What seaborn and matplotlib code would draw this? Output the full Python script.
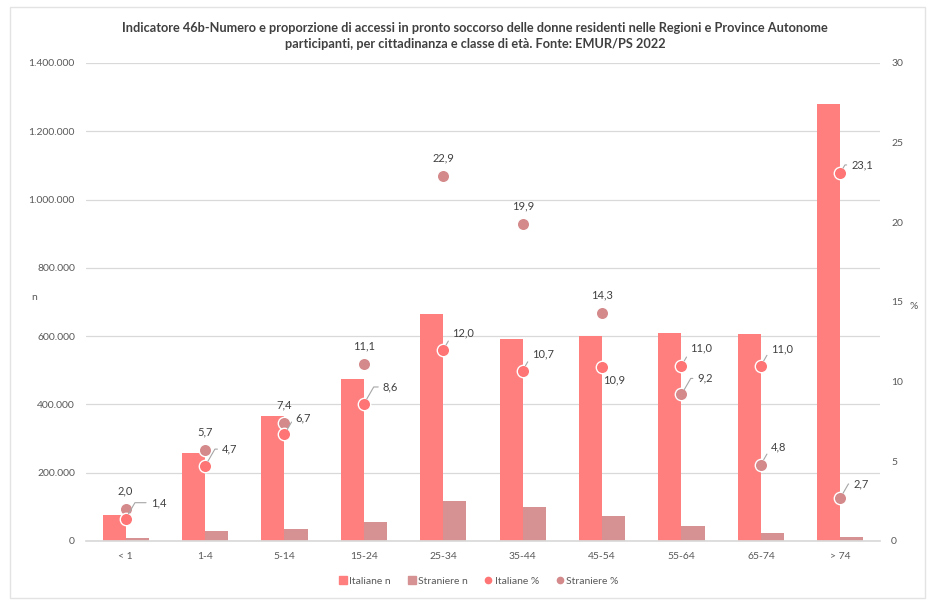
import numpy as np
import pandas as pd
import matplotlib
matplotlib.use("Agg")
import matplotlib.pyplot as plt
import seaborn as sns
from matplotlib.ticker import FuncFormatter
from matplotlib.lines import Line2D
from matplotlib.patches import Rectangle

# ---------------- data ----------------
categories = ["< 1", "1-4", "5-14", "15-24", "25-34", "35-44", "45-54", "55-64", "65-74", "> 74"]
italiane_n = [75000, 258000, 367000, 474000, 664000, 592000, 600000, 610000, 606000, 1279000]
straniere_n = [8000, 28000, 36000, 55000, 116000, 100000, 72000, 45000, 23000, 13000]
italiane_pct = [1.4, 4.7, 6.7, 8.6, 12.0, 10.7, 10.9, 11.0, 11.0, 23.1]
straniere_pct = [2.0, 5.7, 7.4, 11.1, 22.9, 19.9, 14.3, 9.2, 4.8, 2.7]
series_names = ["Italiane n", "Straniere n", "Italiane %", "Straniere %"]
title = ("Indicatore 46b-Numero e proporzione di accessi in pronto soccorso delle donne residenti nelle Regioni e Province Autonome\n"
         "participanti, per cittadinanza e classe di età. Fonte: EMUR/PS 2022")

# ---------------- style ----------------
sns.set_theme(style="white")
plt.rcParams["font.family"] = ["Lato", "DejaVu Sans"]

C_IT = "#FF7F7F"
C_ST = "#D69193"
C_IT_M = "#FF7474"
C_ST_M = "#D4898B"
TXT = "#595959"
LBL = "#404040"
GRID = "#D9D9D9"

fig = plt.figure(figsize=(9.29, 6.0), dpi=100)
fig.patch.set_facecolor("white")
ax = fig.add_axes([86/929, 1-541/600, (880-86)/929, (541-63)/600])

df = pd.DataFrame({
    "cat": categories * 2,
    "n": italiane_n + straniere_n,
    "serie": [series_names[0]] * len(categories) + [series_names[1]] * len(categories),
})
sns.barplot(data=df, x="cat", y="n", hue="serie", order=categories,
            hue_order=series_names[:2], palette=[C_IT, C_ST], width=0.58,
            gap=0, saturation=1, ax=ax, legend=False, linewidth=0)

ax.set_ylim(0, 1400000)
ax.set_yticks(np.arange(0, 1400001, 200000))
ax.yaxis.set_major_formatter(FuncFormatter(lambda v, p: f"{int(v):,}".replace(",", ".")))
ax.set_xlim(-0.5, len(categories) - 0.5)
ax.grid(axis="y", color=GRID, linewidth=0.9)
ax.set_axisbelow(True)
for s in ["top", "right", "left"]:
    ax.spines[s].set_visible(False)
ax.spines["bottom"].set_color(GRID)
ax.tick_params(axis="both", length=0, labelsize=7.5, labelcolor=TXT, pad=8)
ax.set_xlabel("")
ax.set_ylabel("n", rotation=0, fontsize=7.5, color=TXT, labelpad=18)
ax.yaxis.set_label_coords(-0.065, 0.5)

ax2 = ax.twinx()
xs = np.arange(len(categories))
sns.scatterplot(x=xs, y=straniere_pct, ax=ax2, color=C_ST_M, s=80,
                edgecolor="white", linewidth=1.0, zorder=5, legend=False)
sns.scatterplot(x=xs, y=italiane_pct, ax=ax2, color=C_IT_M, s=80,
                edgecolor="white", linewidth=1.0, zorder=6, legend=False)
ax2.set_ylim(0, 30)
ax2.set_yticks(np.arange(0, 31, 5))
ax2.set_xlim(-0.5, len(categories) - 0.5)
for s in ["top", "right", "left", "bottom"]:
    ax2.spines[s].set_visible(False)
ax2.tick_params(axis="y", length=0, labelsize=7.5, labelcolor=TXT, pad=8)
ax2.set_ylabel("%", rotation=0, fontsize=7.5, color=TXT)
ax2.yaxis.set_label_coords(1.043, 0.5)
ax2.grid(False)

# ---------------- data labels ----------------
PX = 0.72  # px -> pt

def fmt(v):
    return f"{v:.1f}".replace(".", ",")

# (dx, dy, leader) in pixels; None -> centred above marker
it_off = [(25, 16, True), (17, 17, True), (11, 16, True), (19, 17, True), (9, 17, True),
          (9, 17, True), (1, -13, False), (9, 18, True), (10, 17, True), (11, 8, True)]
st_off = [None, None, None, None, None, None, None, (16, 16, True), (10, 18, True), (13, 14, True)]

def label(x, y, v, off):
    if off is None:
        ax2.annotate(fmt(v), (x, y), xytext=(0, 18 * PX), textcoords="offset points",
                     ha="center", va="center", fontsize=8, color=LBL, zorder=10)
        return
    dx, dy, lead = off
    if lead:
        ax2.annotate(fmt(v), (x, y), xytext=(dx * PX, dy * PX), textcoords="offset points",
                     ha="left", va="center", fontsize=8, color=LBL, zorder=10,
                     arrowprops=dict(arrowstyle="-", color="#A6A6A6", lw=0.8,
                                     shrinkA=1, shrinkB=4,
                                     connectionstyle="angle,angleA=180,angleB=60,rad=0"))
    else:
        ax2.annotate(fmt(v), (x, y), xytext=(dx * PX, dy * PX), textcoords="offset points",
                     ha="left", va="center", fontsize=8, color=LBL, zorder=10)

for i in range(len(categories)):
    label(xs[i], straniere_pct[i], straniere_pct[i], st_off[i])
    label(xs[i], italiane_pct[i], italiane_pct[i], it_off[i])

# ---------------- title & legend ----------------
fig.text(475/929, 1-36/600, title, ha="center", va="center", fontsize=9.2,
         fontweight="bold", color=LBL, linespacing=1.5)

handles = [
    Line2D([], [], marker="s", linestyle="", color=C_IT, markersize=6),
    Line2D([], [], marker="s", linestyle="", color=C_ST, markersize=6),
    Line2D([], [], marker="o", linestyle="", color=C_IT_M, markersize=4.5),
    Line2D([], [], marker="o", linestyle="", color=C_ST_M, markersize=4.5),
]
fig.legend(handles, series_names, loc="center", bbox_to_anchor=(478/929, 1-581/600),
           ncol=4, frameon=False, fontsize=7.5, labelcolor=TXT, handletextpad=0.1,
           columnspacing=1.5, handlelength=1.0)

fig.patches.append(Rectangle((10/929, 2/600), 1-14/929, 1-9/600, transform=fig.transFigure,
                             fill=False, edgecolor="#E3E3E3", linewidth=1.0))

fig.savefig("out.png", dpi=100)
